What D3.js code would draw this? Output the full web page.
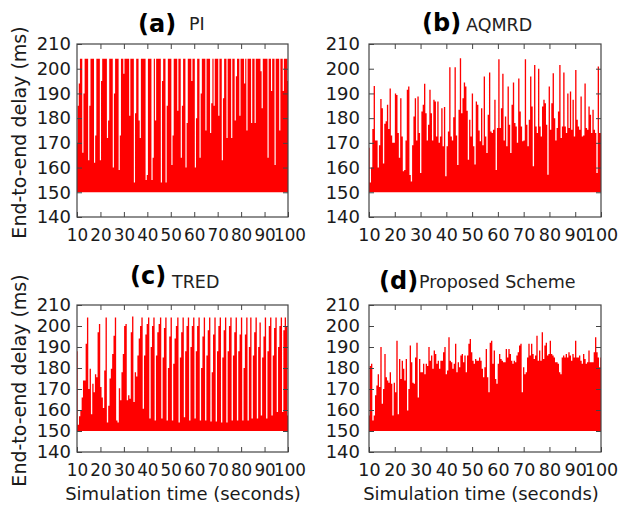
<!DOCTYPE html>
<html>
<head>
<meta charset="utf-8">
<script src="https://cdn.jsdelivr.net/npm/d3@7"></script>
<style>
  html, body { margin: 0; padding: 0; background: #fff; }
  svg { display: block; }
  text { font-family: "DejaVu Sans", sans-serif; fill: #1a1a1a; }
</style>
</head>
<body>
<svg id="chart" width="624" height="506"></svg>
<script>
// ---- data (end-to-end delay in ms, sampled across 10..100 s) ----
const xTickValues = [10, 20, 30, 40, 50, 60, 70, 80, 90, 100];
const yTickValues = [140, 150, 160, 170, 180, 190, 200, 210];
const panelLetters = ["(a)", "(b)", "(c)", "(d)"];
const panelNames = ["PI", "AQMRD", "TRED", "Proposed Scheme"];
const baseline = 150;

const delayPI = [
170,185,194,204,204,166,190,204,204,204,
163,185,204,204,204,162,173,204,204,204,
163,195,204,204,204,204,172,179,204,204,
204,160,190,204,204,204,159,173,204,204,
198,204,204,204,204,181,204,204,204,154,
182,204,204,179,172,204,204,204,204,155,
157,204,204,204,155,164,204,179,204,204,
204,204,154,195,204,204,154,185,204,204,
204,161,173,204,204,204,183,204,204,164,
185,204,204,160,178,204,204,204,195,204,
204,160,180,204,204,164,190,204,204,204,
175,204,204,204,174,186,204,185,204,204,
204,181,204,204,163,188,204,204,172,204,
204,204,172,204,204,179,197,204,204,181,
204,204,204,194,204,175,204,204,204,178,
204,204,178,204,204,204,204,199,184,204,
204,204,204,164,204,204,191,204,204,161,
204,204,204,175,204,204,191,204,204,204,
195];

const delayAQMRD = [
168,154,160,175.6,193,171,171,160,169,187.7,
184,161.6,177.7,178.7,185.4,175.6,192,173,170,170,
190,189.4,174,164,188,172.6,158.5,159,171,191.5,
192.8,157,154.4,169,180.7,188,171,188.8,174,157.8,
182.7,185.4,193.9,182,171,177.3,191.5,182,171,187.4,
186.7,172.6,186.7,170,172.6,184,168.6,184.5,156.5,168.6,
174.6,200.6,172.6,171,180.4,200.6,173,161,183.4,204.2,
182,188,194.4,192.8,183,163.2,179.3,172.6,190,168.6,
161.2,186.7,185.4,175,170.6,184,169,196.8,172.6,165.9,
181.4,198.5,174.6,174,175.3,187.4,159,176,203.8,176,
184,198,171,180.7,168.6,192.8,177.3,165.9,185.4,194.4,
178,176.6,170,196,182.7,176.6,170.6,171,203.8,177.3,
168.6,179.3,196.8,184.7,160.5,201.5,176.6,174,200,176.6,
172.6,184.7,187.4,186,177.3,157.1,192.8,175.3,186,198.2,
180,171,176,182.7,201.5,172,176.6,198.5,176.6,174,
190,176,190.8,175.3,187.4,172.6,199.5,179.3,176.6,175.3,
188.8,172.6,173,194,176,175.3,184.7,181.4,174,183.4,
175.3,174,157.8,200.9,174,174];

const delayTRED = [
188,153,157,160,166,174,174,191.5,204,170,
179.6,158,172.5,168.5,177,175.6,197,201,171,166,
161,178.8,204,154,162,175,179.6,186.7,195.4,204,
155,154,170.4,164.6,178,186.7,200,201,164.6,167,
165.3,197,204.5,163.8,178,176,186,194,200,204,
160.6,186,196,201,204,155.9,190,200,204,155,
186,197,201,204,155.9,185,199,204,155,180,
195,204,155,182,194,200,204,154,185,197,
204,156.6,188,200,204,155,190,200,204,156,
188,200,204,155,180,195,204,155,186,198,
204,154.5,178,196,204,154.5,188,200,204,154,
185,198,204,154,188,200,204,155,186,197,
204,155,188,196,204,155,180,196,204,155,
190,204,156,186,197,204,156,190,201.7,157.4,
185,195,204,156,188,200,204,157.4,186,199,
204,159,190,200,204,159,198,204,200,157.4];

const delayProposed = [
157.4,181,182,155,157.4,167,171.7,177,171,190,
163,170,186.7,175.6,174,173,178,172.5,157.4,173,
168.5,193,158,184.3,174.8,183.5,179.6,174,184.3,159.8,
170,190.7,182.7,173,172.5,185,192,166,184.3,178,
178,182,177,182,181,190,183.5,186,179.6,188.3,
186.7,182,183.5,179.6,183.5,183.5,187.5,190,177,178.8,
194.6,183.5,182.7,179.6,182,191.5,178,182.7,180.4,186,
186.7,182.7,186,178,186,191.5,193.8,187.5,183.5,182,
184.3,183.5,183.5,185,183.5,179.6,175.6,180.4,189,175.6,
168.5,192,193,182,188.3,174.8,172.5,182,186.7,184.3,
183.5,182.7,182.7,189,185,189,186.7,183.5,182,183.5,
182.7,186,187.5,190.7,191.5,168.5,180.4,177,178,185,
191.5,186,191.5,186.7,184.3,186,195.4,183.5,188.3,183.5,
197,184.3,190.7,192,186,186.7,193,186.7,186,185,
182.7,182.7,182,178,177,185,186,185,186.7,185,
187.5,186,183.5,186.7,185,193,185,185,186,183.5,
182,186.7,184.3,182,182.7,188.3,182.7,182.7,182.7,187.5,
194.6,187.5,185,180.4,185];

const series = [delayPI, delayAQMRD, delayTRED, delayProposed];

// ---- layout ----
const panels = [
  { x0: 77,  x1: 288, y0: 44,  y1: 217, left: true,  bottom: false, labelOff: 6, xfs: 16.8 },
  { x0: 369, x1: 601, y0: 44,  y1: 217, left: false, bottom: false, labelOff: 9, xfs: 17.5 },
  { x0: 77,  x1: 288, y0: 305, y1: 452, left: true,  bottom: true,  labelOff: 6, xfs: 16.8 },
  { x0: 369, x1: 601, y0: 305, y1: 452, left: false, bottom: true,  labelOff: 9, xfs: 17.5 }
];
const titles = [
  { lx: 138, ly: 32,  nx: 189, ny: 30 },
  { lx: 422, ly: 31,  nx: 466, ny: 31 },
  { lx: 130, ly: 284, nx: 172, ny: 288 },
  { lx: 379, ly: 289, nx: 419, ny: 288 }
];

const svg = d3.select("#chart");
svg.append("rect").attr("width", 624).attr("height", 506).attr("fill", "#fff");

panels.forEach((p, k) => {
  const data = series[k];
  const n = data.length;
  const x = d3.scaleLinear().domain([10, 100]).range([p.x0, p.x1]);
  const y = d3.scaleLinear().domain([140, 210]).range([p.y1, p.y0]);
  const pts = data.map((v, i) => ({ t: 10 + 90 * i / (n - 1), v }));

  const g = svg.append("g");
  const clipId = "clip" + k;
  g.append("clipPath").attr("id", clipId)
    .append("rect").attr("x", p.x0).attr("y", p.y0)
    .attr("width", p.x1 - p.x0).attr("height", p.y1 - p.y0);

  const area = d3.area()
    .x(d => x(d.t))
    .y0(y(baseline))
    .y1(d => y(d.v))
    .curve(d3.curveStep);

  g.append("path")
    .datum(pts)
    .attr("clip-path", `url(#${clipId})`)
    .attr("d", area)
    .attr("fill", "#ff0000")
    .attr("stroke", "none");

  // axes with inward ticks (all four sides)
  const axB = g.append("g").attr("transform", `translate(0,${p.y1})`)
    .call(d3.axisBottom(x).tickValues(xTickValues).tickSizeInner(-5).tickSizeOuter(0).tickPadding(12));
  const axT = g.append("g").attr("transform", `translate(0,${p.y0})`)
    .call(d3.axisTop(x).tickValues(xTickValues.slice(1, -1)).tickSizeInner(-5).tickSizeOuter(0).tickFormat(""));
  const axL = g.append("g").attr("transform", `translate(${p.x0},0)`)
    .call(d3.axisLeft(y).tickValues(yTickValues).tickSizeInner(-5).tickSizeOuter(0).tickPadding(p.labelOff));
  const axR = g.append("g").attr("transform", `translate(${p.x1},0)`)
    .call(d3.axisRight(y).tickValues(yTickValues.slice(1, -1)).tickSizeInner(-5).tickSizeOuter(0).tickFormat(""));

  [axB, axT, axL, axR].forEach(a => {
    a.select(".domain").remove();
    a.selectAll(".tick line").attr("stroke", "#444").attr("stroke-width", 1);
  });
  axB.selectAll(".tick text").attr("font-size", p.xfs).attr("font-family", "DejaVu Sans").attr("fill", "#1a1a1a");
  axB.selectAll(".tick").filter(d => d === 100).select("text").attr("dx", p.left ? 1.5 : 0);
  axL.selectAll(".tick text").attr("font-size", 18).attr("font-family", "DejaVu Sans").attr("fill", "#1a1a1a");

  // frame
  g.append("rect")
    .attr("x", p.x0).attr("y", p.y0)
    .attr("width", p.x1 - p.x0).attr("height", p.y1 - p.y0)
    .attr("fill", "none").attr("stroke", "#444").attr("stroke-width", 1.2);

  // title
  const tt = titles[k];
  svg.append("text").attr("x", tt.lx).attr("y", tt.ly)
    .attr("font-size", 24).attr("font-weight", "bold").style("fill", "#000")
    .text(panelLetters[k]);
  svg.append("text").attr("x", tt.nx).attr("y", tt.ny)
    .attr("font-size", 17.5).style("fill", "#222")
    .text(panelNames[k]);

  if (p.left) {
    svg.append("text")
      .attr("transform", `translate(26,${(p.y0 + p.y1) / 2 + 2}) rotate(-90)`)
      .attr("text-anchor", "middle")
      .attr("font-size", 19)
      .text("End-to-end delay (ms)");
  }
  if (p.bottom) {
    svg.append("text")
      .attr("x", k === 2 ? 183 : 481).attr("y", 500)
      .attr("text-anchor", "middle")
      .attr("font-size", 18)
      .text("Simulation time (seconds)");
  }
});
</script>
</body>
</html>
